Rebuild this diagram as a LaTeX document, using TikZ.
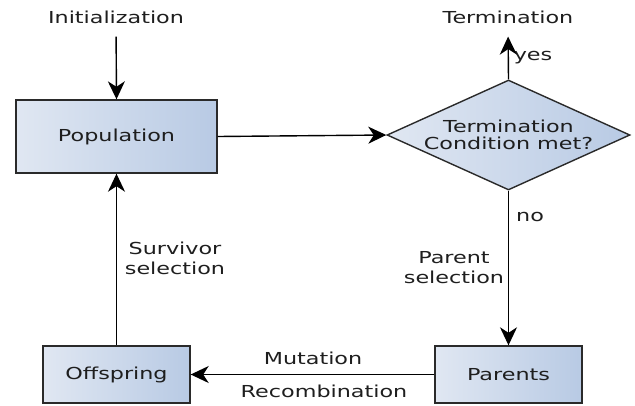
\documentclass[tikz,border=0pt]{standalone}
\usepackage{fontspec}
\setmainfont[FakeStretch=1.35]{DejaVu Sans}
\usetikzlibrary{shapes.geometric,arrows.meta}
\definecolor{boxL}{HTML}{E0E7F2}
\definecolor{boxR}{HTML}{B8CAE4}
\definecolor{edge}{HTML}{2A2A2A}
\definecolor{txt}{HTML}{1E1E1E}
\tikzset{
  boxnode/.style={draw=edge, line width=1.4pt, left color=boxL, right color=boxR,
    rectangle, inner sep=0pt, text=txt, font=\fontsize{16.5}{19}\selectfont},
  decnode/.style={draw=edge, line width=1.4pt, left color=boxL, right color=boxR,
    diamond, aspect=2.21, inner sep=0pt, text=txt, align=center, font=\fontsize{16.5}{17}\selectfont},
  lbl/.style={text=txt, inner sep=0pt, align=center, font=\fontsize{16.5}{20}\selectfont},
  arr/.style={line width=1.4pt, draw=black, -{Stealth[length=18pt,width=17pt,inset=5.5pt]}},
}
\begin{document}
\begin{tikzpicture}[x=1pt,y=-1pt]
\useasboundingbox (0,0) rectangle (635,405);
\node[lbl] (init) at (116,17) {Initialization};
\node[lbl] (term) at (508,17) {Termination};
\node[boxnode, minimum width=201pt, minimum height=73pt] (pop) at (116.5,136.5) {Population};
\node[decnode, minimum width=243pt, minimum height=110pt] (cond) at (508.5,135) {Termination\\Condition met?};
\node[boxnode, minimum width=147pt, minimum height=57pt] (par) at (508.5,374.5) {Parents};
\node[boxnode, minimum width=147pt, minimum height=57pt] (off) at (116.5,374.5) {Offspring};
\node[lbl] (yes) at (533,58) {yes};
\node[lbl] (no) at (530,217) {no};
\node[lbl] (psel) at (454,268) {Parent\\selection};
\node[lbl] (ssel) at (175,258.5) {Survivor\\selection};
\node[lbl] (mut) at (313,358) {Mutation};
\node[lbl] (rec) at (324,391) {Recombination};
\draw[arr, shorten <=13pt] (init.south) -- (pop.north);
\draw[arr, shorten >=13pt] (cond.north) -- (term.south);
\draw[arr] (pop.east) -- (cond.west);
\draw[arr] (cond.south) -- (par.north);
\draw[arr] (par.west) -- (off.east);
\draw[arr] (off.north) -- (pop.south);
\end{tikzpicture}
\end{document}
